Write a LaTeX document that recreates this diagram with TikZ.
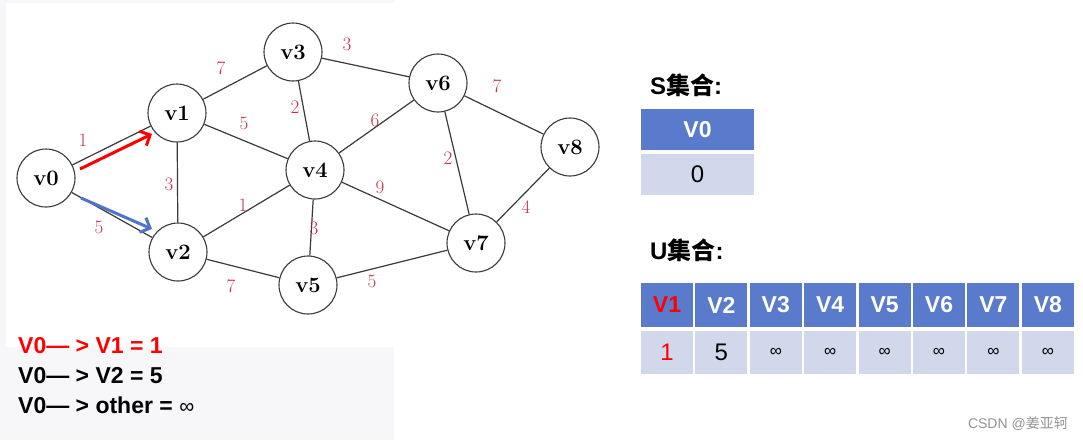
\documentclass[tikz,border=0pt]{standalone}
\usepackage{fontspec}
\newfontfamily\arial{Liberation Sans}
\newfontfamily\cjk{Noto Sans CJK SC}
\usetikzlibrary{arrows.meta}
\definecolor{hdrblue}{HTML}{5A7BCB}
\definecolor{cellblue}{HTML}{D2D8EC}
\definecolor{lblred}{HTML}{C8304A}
\definecolor{bggray}{HTML}{F7F7F9}
\definecolor{arrblue}{HTML}{4F74C8}
\definecolor{edgegray}{HTML}{3A3A3A}
\begin{document}
\begin{tikzpicture}[x=1pt,y=-1pt,
  vtx/.style={circle,draw=edgegray,line width=1.1pt,minimum size=58pt,inner sep=0pt,
    font=\fontsize{22}{22}\selectfont\bfseries},
  edge/.style={draw=edgegray,line width=1.2pt},
  wlbl/.style={text=lblred,inner sep=0pt,font=\fontsize{19}{19}\selectfont},
  hdr/.style={fill=hdrblue,text=white,inner sep=0pt,
    font=\arial\fontsize{23}{23}\selectfont\bfseries},
  dat/.style={fill=cellblue,text=black,inner sep=0pt,
    font=\arial\fontsize{24}{24}\selectfont},
  ucell/.style={minimum width=52pt},
  inf/.style={font=\arial\fontsize{17}{17}\selectfont},
  title/.style={anchor=base west,inner sep=0pt,font=\fontsize{24}{24}\selectfont},
  txt/.style={anchor=base west,inner sep=0pt,font=\arial\fontsize{23}{23}\selectfont\bfseries},
  marrow/.style={line width=3pt,-{Straight Barb[length=8pt,width=16pt,line width=3pt]}}
]
\useasboundingbox (0,0) rectangle (1083,440);
\fill[white] (0,0) rectangle (1083,440);
% light gray backgrounds
\fill[bggray] (0,0) rectangle (394,3);
\fill[bggray] (0,0) rectangle (6,440);
\fill[bggray] (0,347) rectangle (394,440);

% graph nodes
\node[vtx] (v0) at (46,178) {v0};
\node[vtx] (v1) at (177,113) {v1};
\node[vtx] (v2) at (178,252) {v2};
\node[vtx] (v3) at (293,52) {v3};
\node[vtx] (v4) at (315,170) {v4};
\node[vtx] (v5) at (308,285) {v5};
\node[vtx] (v6) at (438,83) {v6};
\node[vtx] (v7) at (476,243) {v7};
\node[vtx] (v8) at (570,147) {v8};

% edges
\draw[edge] (v0) -- (v1);
\draw[edge] (v0) -- (v2);
\draw[edge] (v1) -- (v3);
\draw[edge] (v1) -- (v4);
\draw[edge] (v1) -- (v2);
\draw[edge] (v2) -- (v4);
\draw[edge] (v2) -- (v5);
\draw[edge] (v3) -- (v4);
\draw[edge] (v3) -- (v6);
\draw[edge] (v4) -- (v6);
\draw[edge] (v4) -- (v7);
\draw[edge] (v4) -- (v5);
\draw[edge] (v5) -- (v7);
\draw[edge] (v6) -- (v7);
\draw[edge] (v6) -- (v8);
\draw[edge] (v7) -- (v8);

% weights
\node[wlbl] (w01) at (83,140) {1};
\node[wlbl] (w02) at (99,227) {5};
\node[wlbl] (w13) at (221,68) {7};
\node[wlbl] (w14) at (244,123) {5};
\node[wlbl] (w12) at (169,184) {3};
\node[wlbl] (w24) at (243,205) {1};
\node[wlbl] (w25) at (231,286) {7};
\node[wlbl] (w34) at (295,107) {2};
\node[wlbl] (w36) at (347,44) {3};
\node[wlbl] (w46) at (375,120) {6};
\node[wlbl] (w47) at (380,187) {9};
\node[wlbl] (w45) at (314,228) {3};
\node[wlbl] (w57) at (372,281) {5};
\node[wlbl] (w67) at (448,158) {2};
\node[wlbl] (w68) at (497,86) {7};
\node[wlbl] (w78) at (526,207) {4};

% highlight arrows
\coordinate (ra) at (80,169);
\coordinate (rb) at (152,134);
\coordinate (ba) at (81,198);
\coordinate (bb) at (152,229);
\draw[marrow,red] (ra) -- (rb);
\draw[marrow,arrblue] (ba) -- (bb);

% bottom-left text
\node[txt,text=red] (t1) at (18,353) {V0— > V1 = 1};
\node[txt] (t2) at (18,383) {V0— > V2 = 5};
\node[txt] (t3) at (18,413) {V0— > other = {\mdseries\fontsize{21}{21}\selectfont ∞}};

% S set
\node[title] (stitle) at (650,94) {{\arial\bfseries S}{\cjk\bfseries 集合}{\arial\bfseries :}};
\node[hdr,minimum width=113pt,minimum height=41pt] (s0) at (697.5,129.5) {V0};
\node[dat,minimum width=113pt,minimum height=41pt] (s0d) at (697.5,174.5) {0};

% U set
\node[title] (utitle) at (650,259) {{\arial\bfseries U}{\cjk\bfseries 集合}{\arial\bfseries :}};
\node[hdr,ucell,minimum height=44pt,text=red] (u0) at (667,305) {V1};
\node[dat,ucell,minimum height=43pt,text=red] (d0) at (667,352.5) {1};
\node[hdr,ucell,minimum height=44pt] (u1) at (721.4,305) {V2};
\node[dat,ucell,minimum height=43pt] (d1) at (721.4,352.5) {5};
\foreach \i/\lab in {2/V3,3/V4,4/V5,5/V6,6/V7,7/V8}{
  \pgfmathsetmacro{\cx}{667+54.4*\i}
  \node[hdr,ucell,minimum height=44pt] (u\i) at (\cx,305) {\lab};
  \node[dat,ucell,minimum height=43pt,inf] (d\i) at (\cx,352.5) {∞};
}

% watermark
\node[anchor=east,inner sep=0pt,text=black!42,font=\fontsize{14}{14}\selectfont] (wm) at (1068,424) {{\arial CSDN @}{\cjk 姜亚轲}};
\end{tikzpicture}
\end{document}
